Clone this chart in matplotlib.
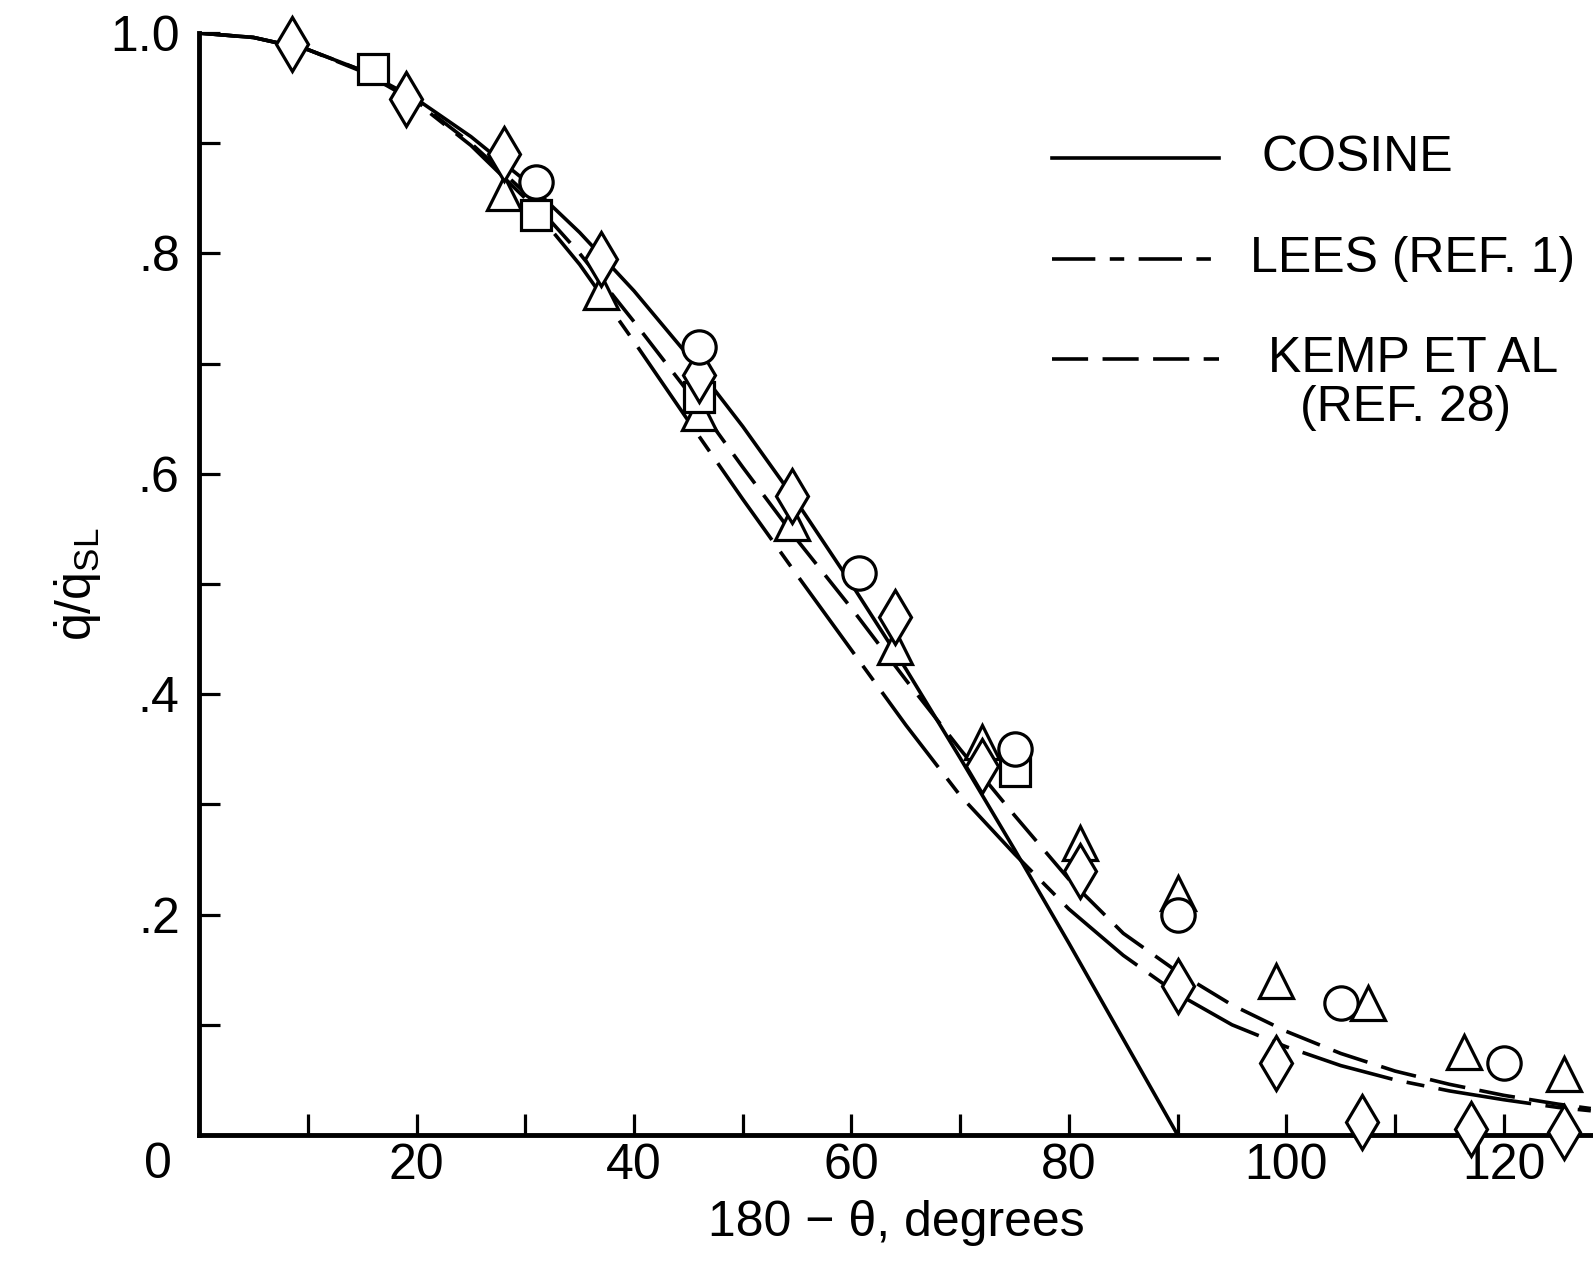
import matplotlib
matplotlib.use('Agg')
import matplotlib.pyplot as plt
from matplotlib.lines import Line2D

plt.rcParams['font.family'] = ['Liberation Sans', 'DejaVu Sans']
plt.rcParams['mathtext.fontset'] = 'custom'
plt.rcParams['mathtext.rm'] = 'Liberation Sans'
plt.rcParams['mathtext.it'] = 'Liberation Sans'

# theory curves
angle_cos = [0, 5, 10, 15, 20, 25, 30, 35, 40, 45, 50, 55, 60, 65, 70, 75, 80, 85, 90]
q_cosine = [1.000, 0.996, 0.985, 0.966, 0.940, 0.906, 0.866, 0.819, 0.766, 0.707,
            0.643, 0.574, 0.500, 0.423, 0.342, 0.259, 0.174, 0.087, 0.0]

angle_theory = [0, 5, 10, 15, 20, 25, 30, 35, 40, 45, 50, 55, 60, 65, 70, 75, 80,
                85, 90, 95, 100, 105, 110, 115, 120, 125, 128]
q_lees = [1.000, 0.996, 0.985, 0.965, 0.937, 0.898, 0.850, 0.790, 0.720, 0.648,
          0.577, 0.508, 0.440, 0.372, 0.308, 0.255, 0.205, 0.163, 0.128, 0.100,
          0.080, 0.063, 0.050, 0.040, 0.032, 0.025, 0.022]
q_kemp = [1.000, 0.996, 0.985, 0.966, 0.938, 0.900, 0.855, 0.800, 0.738, 0.674,
          0.606, 0.540, 0.478, 0.413, 0.350, 0.290, 0.232, 0.183, 0.148, 0.118,
          0.094, 0.074, 0.058, 0.046, 0.036, 0.028, 0.024]

# measured points
diamond_x = [8.5, 19, 28, 37, 46, 54.5, 64, 72, 81, 90, 99, 107, 117, 125.5]
diamond_y = [0.99, 0.94, 0.89, 0.795, 0.69, 0.58, 0.47, 0.335, 0.24, 0.135,
             0.065, 0.012, 0.005, 0.003]
square_x = [16, 31, 46, 75]
square_y = [0.967, 0.835, 0.67, 0.33]
circle_x = [31, 46, 60.7, 75, 90, 105, 120]
circle_y = [0.865, 0.715, 0.51, 0.35, 0.20, 0.12, 0.065]
triangle_x = [28, 37, 46, 54.5, 64, 72, 81, 90, 99, 107.5, 116.3, 125.5]
triangle_y = [0.855, 0.765, 0.655, 0.555, 0.443, 0.357, 0.265, 0.22, 0.14,
              0.12, 0.075, 0.055]

xticks = [10, 20, 30, 40, 50, 60, 70, 80, 90, 100, 110, 120]
xticklabels = ['', '20', '', '40', '', '60', '', '80', '', '100', '', '120']
yticks = [0.1, 0.2, 0.3, 0.4, 0.5, 0.6, 0.7, 0.8, 0.9, 1.0]
yticklabels = ['', '.2', '', '.4', '', '.6', '', '.8', '', '1.0']

fs = 36
lw = 2.6
lees_style = (0, (26, 4, 5, 4))
kemp_style = (0, (10, 4))

fig = plt.figure(figsize=(15.93, 12.76), dpi=100)
ax = fig.add_axes([0.125, 0.1105, 0.875, 0.8636])

ax.plot(angle_cos, q_cosine, color='black', lw=lw, linestyle='-')
ax.plot(angle_theory, q_lees, color='black', lw=lw, linestyle=lees_style)
ax.plot(angle_theory, q_kemp, color='black', lw=lw, linestyle=kemp_style)

mk = dict(linestyle='none', markerfacecolor='white', markeredgecolor='black',
          markeredgewidth=2.3, clip_on=False, zorder=3)
ax.plot(triangle_x, triangle_y, marker='^', markersize=25, **mk)
ax.plot(square_x, square_y, marker='s', markersize=21, **mk)
ax.plot(diamond_x, diamond_y, marker='d', markersize=28, **mk)
ax.plot(circle_x, circle_y, marker='o', markersize=24, **mk)

ax.set_xlim(0, 128.2)
ax.set_ylim(0, 1.0)
for side in ['top', 'right']:
    ax.spines[side].set_visible(False)
for side in ['left', 'bottom']:
    ax.spines[side].set_linewidth(3.5)

ax.set_xticks(xticks)
ax.set_xticklabels(xticklabels)
ax.set_yticks(yticks)
ax.set_yticklabels(yticklabels)
ax.tick_params(direction='in', length=15, width=2.3, labelsize=fs)
ax.tick_params(axis='x', pad=6)
ax.tick_params(axis='y', pad=14)

# shared origin label
ax.text(-3.8, -0.027, '0', transform=ax.get_xaxis_transform(),
        ha='center', va='center', fontsize=fs)

ax.set_xlabel('180 \u2212 \u03b8, degrees', fontsize=fs, labelpad=8)
ax.set_ylabel(r'$\dot{\mathrm{q}}/\dot{\mathrm{q}}_{\mathrm{SL}}$', fontsize=36,
              labelpad=4)

# legend drawn by hand
legend_rows = [('COSINE', '-', 0.887, 0.762),
               ('LEES (REF. 1)', (0, (12, 4, 4, 4)), 0.795, 0.754),
               ('KEMP ET AL', (0, (10, 4)), 0.704, 0.767)]
for label, ls, yy, tx in legend_rows:
    ax.add_line(Line2D([0.612, 0.732], [yy, yy], transform=ax.transAxes,
                       color='black', lw=lw, linestyle=ls, clip_on=False))
    ax.text(tx, yy, label, transform=ax.transAxes, fontsize=fs,
            ha='left', va='center', clip_on=False)
ax.text(0.79, 0.66, '(REF. 28)', transform=ax.transAxes, fontsize=fs,
        ha='left', va='center')

fig.savefig('out.png', dpi=100)
